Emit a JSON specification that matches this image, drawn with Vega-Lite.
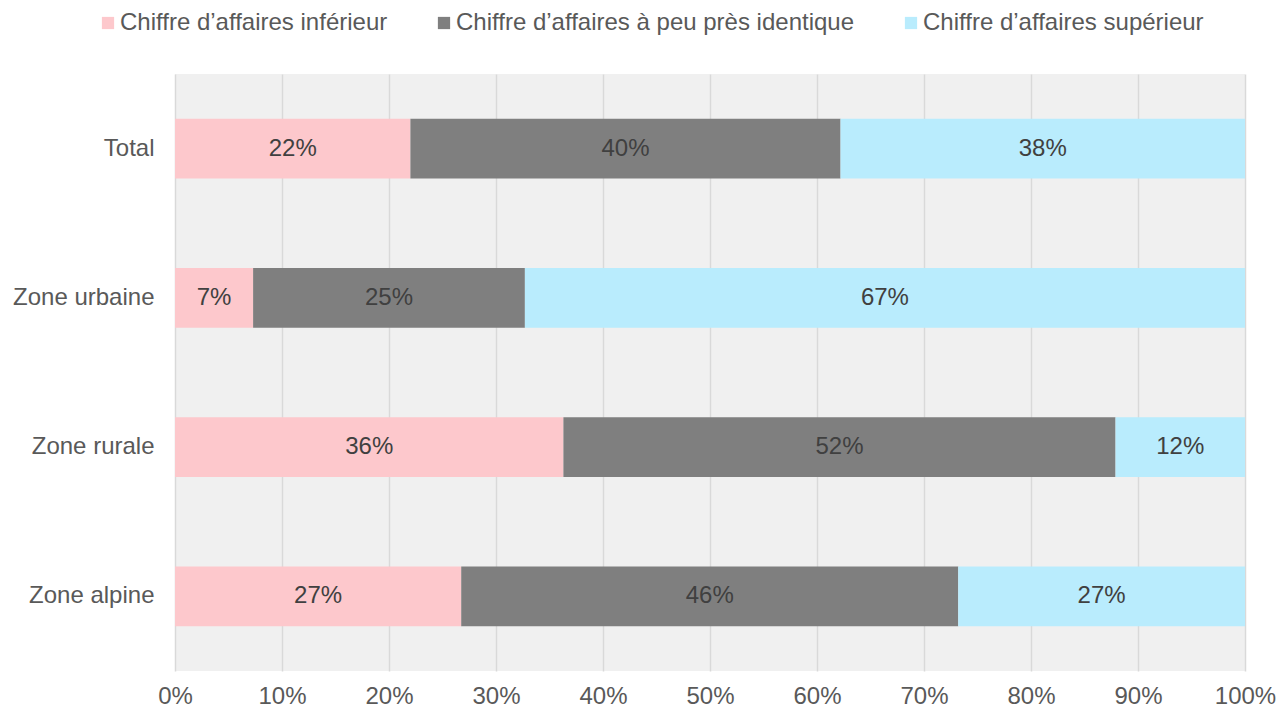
{
  "$schema": "https://vega.github.io/schema/vega-lite/v6.json",
  "width": 1070,
  "height": 597,
  "autosize": {"type": "none"},
  "padding": {"left": 175, "top": 74, "right": 36, "bottom": 38},
  "background": "white",
  "config": {
    "font": "Liberation Sans",
    "view": {"fill": "#f0f0f0", "stroke": null}
  },
  "data": {
    "values": [
      {"zone": "Total", "cat": "Chiffre d’affaires inférieur", "ord": 1, "v": 0.22},
      {"zone": "Total", "cat": "Chiffre d’affaires à peu près identique", "ord": 2, "v": 0.402},
      {"zone": "Total", "cat": "Chiffre d’affaires supérieur", "ord": 3, "v": 0.378},
      {"zone": "Zone urbaine", "cat": "Chiffre d’affaires inférieur", "ord": 1, "v": 0.073},
      {"zone": "Zone urbaine", "cat": "Chiffre d’affaires à peu près identique", "ord": 2, "v": 0.254},
      {"zone": "Zone urbaine", "cat": "Chiffre d’affaires supérieur", "ord": 3, "v": 0.673},
      {"zone": "Zone rurale", "cat": "Chiffre d’affaires inférieur", "ord": 1, "v": 0.363},
      {"zone": "Zone rurale", "cat": "Chiffre d’affaires à peu près identique", "ord": 2, "v": 0.516},
      {"zone": "Zone rurale", "cat": "Chiffre d’affaires supérieur", "ord": 3, "v": 0.121},
      {"zone": "Zone alpine", "cat": "Chiffre d’affaires inférieur", "ord": 1, "v": 0.2675},
      {"zone": "Zone alpine", "cat": "Chiffre d’affaires à peu près identique", "ord": 2, "v": 0.4645},
      {"zone": "Zone alpine", "cat": "Chiffre d’affaires supérieur", "ord": 3, "v": 0.268}
    ]
  },
  "transform": [
    {"stack": "v", "groupby": ["zone"], "sort": [{"field": "ord", "order": "ascending"}], "as": ["x0", "x1"]},
    {"calculate": "(datum.x0 + datum.x1) / 2", "as": "mid"}
  ],
  "encoding": {
    "y": {
      "field": "zone",
      "type": "nominal",
      "sort": ["Total", "Zone urbaine", "Zone rurale", "Zone alpine"],
      "scale": {"paddingInner": 0.6, "paddingOuter": 0.3},
      "axis": {
        "title": null,
        "domain": false,
        "ticks": false,
        "labelFontSize": 24,
        "labelColor": "#595959",
        "labelPadding": 21,
        "grid": false
      }
    }
  },
  "layer": [
    {
      "mark": {"type": "bar"},
      "encoding": {
        "x": {
          "field": "x0",
          "type": "quantitative",
          "scale": {"domain": [0, 1], "nice": false},
          "axis": {
            "title": null,
            "format": ".0%",
            "values": [0, 0.1, 0.2, 0.3, 0.4, 0.5, 0.6, 0.7, 0.8, 0.9, 1],
            "domain": false,
            "ticks": false,
            "grid": true,
            "gridColor": "#d9d9d9",
            "gridWidth": 1.5,
            "labelFontSize": 24,
            "labelColor": "#595959",
            "labelPadding": 13,
            "labelFlush": false
          }
        },
        "x2": {"field": "x1"},
        "color": {
          "field": "cat",
          "type": "nominal",
          "sort": ["Chiffre d’affaires inférieur", "Chiffre d’affaires à peu près identique", "Chiffre d’affaires supérieur"],
          "scale": {
            "domain": ["Chiffre d’affaires inférieur", "Chiffre d’affaires à peu près identique", "Chiffre d’affaires supérieur"],
            "range": ["#fdc8cc", "#7f7f7f", "#b9ecfd"]
          },
          "legend": {
            "title": null,
            "orient": "none",
            "direction": "horizontal",
            "legendX": -79,
            "legendY": -63,
            "symbolType": "square",
            "symbolSize": 150,
            "symbolStrokeWidth": 0,
            "labelFontSize": 24,
            "labelColor": "#595959",
            "labelOffset": 0,
            "columnPadding": 44,
            "labelLimit": 600
          }
        }
      }
    },
    {
      "mark": {"type": "text", "fontSize": 24, "color": "#404040", "align": "center", "baseline": "middle"},
      "encoding": {
        "x": {"field": "mid", "type": "quantitative"},
        "text": {"field": "v", "type": "quantitative", "format": ".0%"}
      }
    }
  ]
}
